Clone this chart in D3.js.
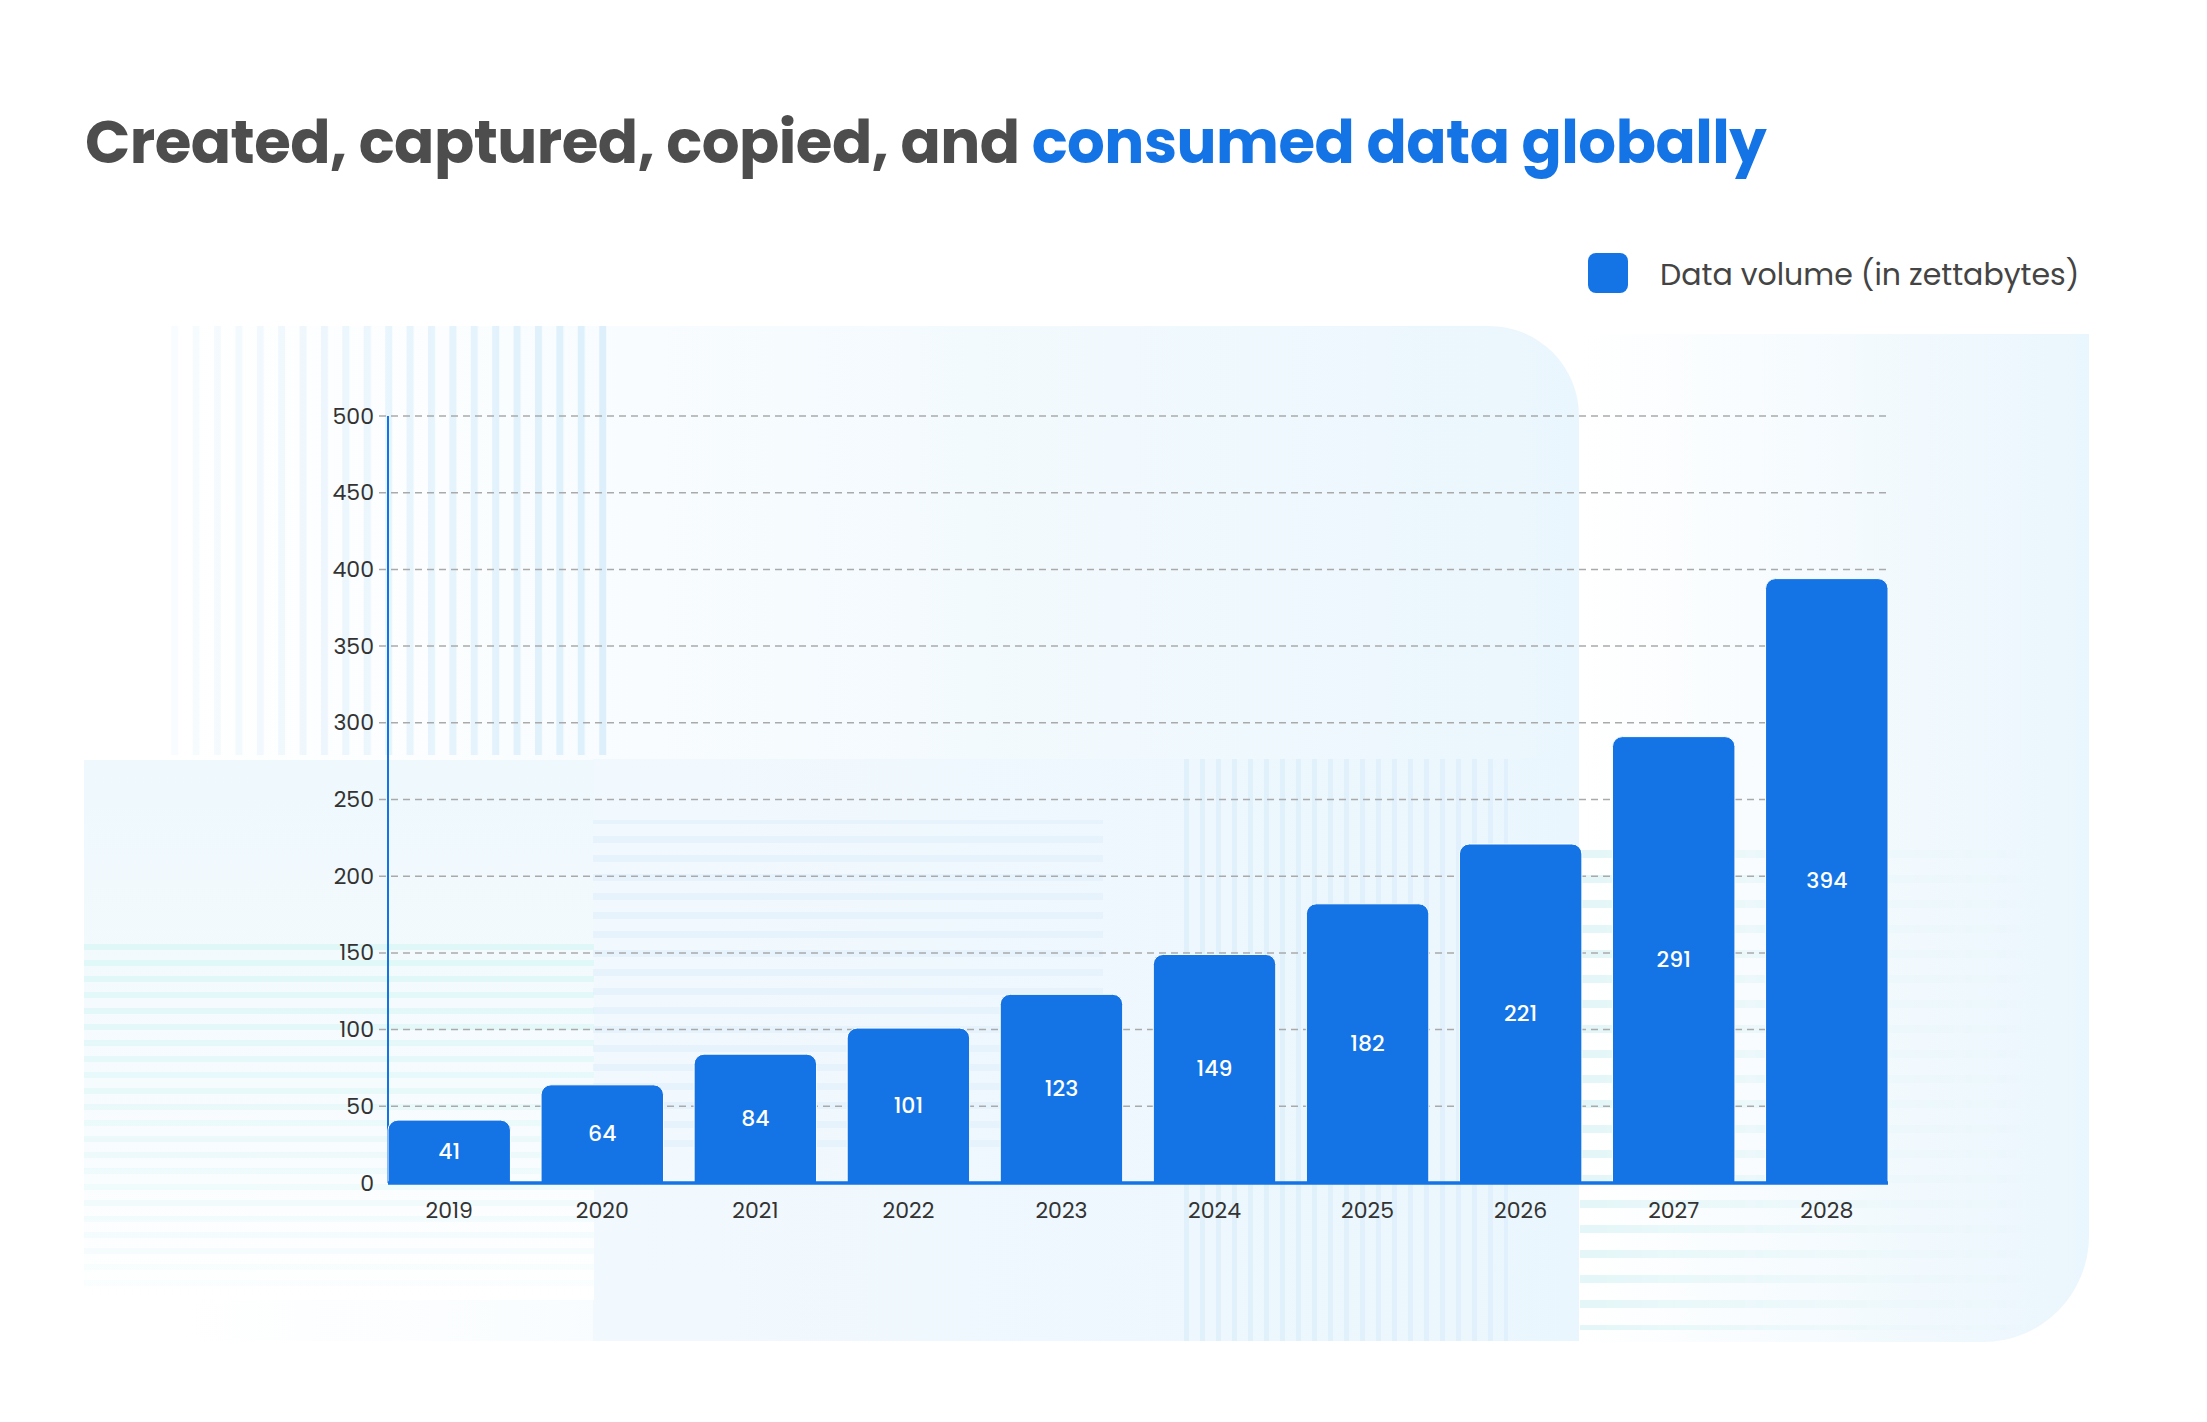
<!DOCTYPE html>
<html lang="en">
<head>
  <meta charset="utf-8" />
  <script src="https://d3js.org/d3.v7.min.js"></script>
  <style>
    body { margin: 0; background: #fff; }
    text { font-family: Poppins, Inter, "Noto Sans", sans-serif; }
    .tick-label { font-size: 22px; fill: #333; }
    .bar-label { font-size: 22px; fill: #fff; font-weight: 500; }
  </style>
</head>
<body>
  <div id="visu"></div>
  <script>
    const years = ["2019", "2020", "2021", "2022", "2023", "2024", "2025", "2026", "2027", "2028"];
    const volumes = [41, 64, 84, 101, 123, 149, 182, 221, 291, 394];
    const yTicks = [0, 50, 100, 150, 200, 250, 300, 350, 400, 450, 500];
    const seriesName = "Data volume (in zettabytes)";
    const titleDark = "Created, captured, copied, and ";
    const titleBlue = "consumed data globally";

    const width = 2207, height = 1422;
    const blue = "#1474e6";
    const plot = { left: 388, right: 1888, top: 416, bottom: 1183 };

    const svg = d3.select("#visu").append("svg")
      .attr("width", width)
      .attr("height", height);
    const defs = svg.append("defs");

    // --- background decoration ---
    function linGrad(id, x1, y1, x2, y2, stops) {
      const g = defs.append("linearGradient").attr("id", id)
        .attr("gradientUnits", "userSpaceOnUse")
        .attr("x1", x1).attr("y1", y1).attr("x2", x2).attr("y2", y2);
      stops.forEach(s => g.append("stop").attr("offset", s[0]).attr("stop-color", s[1]).attr("stop-opacity", s[2] == null ? 1 : s[2]));
    }
    linGrad("gB", 171, 0, 1579, 0, [[0, "#ffffff"], [1, "#eaf6fd"]]);
    linGrad("gD", 1579, 0, 2089, 0, [[0, "#ffffff"], [1, "#eaf6fd"]]);
    linGrad("gC", 593, 0, 1579, 0, [[0, "#f2f9fe"], [1, "#eaf6fd"]]);
    linGrad("gL", 0, 760, 0, 1300, [[0, "#eef8fd"], [0.6, "#f6fbfe"], [1, "#ffffff"]]);
    linGrad("fadeL", 171, 0, 614, 0, [[0, "#fff", 0.2], [1, "#fff", 1]]);
    linGrad("fadeD", 1580, 0, 2050, 0, [[0, "#fff", 1], [1, "#fff", 0]]);
    linGrad("fadeV", 0, 935, 0, 1300, [[0, "#fff", 1], [1, "#fff", 0.1]]);

    function stripes(id, vertical, step, thick, color) {
      const p = defs.append("pattern").attr("id", id)
        .attr("patternUnits", "userSpaceOnUse")
        .attr("width", vertical ? step : 20).attr("height", vertical ? 20 : step);
      p.append("rect")
        .attr("width", vertical ? thick : 20).attr("height", vertical ? 20 : thick)
        .attr("fill", color);
    }
    stripes("vs", true, 21.4, 7, "#dcefFB");
    stripes("vs2", true, 16, 5, "#dceefb");
    stripes("hs", false, 16, 6, "#dff7f7");
    stripes("hs2", false, 19, 7, "#e0effb");
    stripes("hs3", false, 25, 8, "#e4f6f8");

    function mask(id, fill) {
      defs.append("mask").attr("id", id).append("rect")
        .attr("width", width).attr("height", height).attr("fill", `url(#${fill})`);
    }
    mask("mL", "fadeL");
    mask("mD", "fadeD");
    mask("mV", "fadeV");

    const bg = svg.append("g");
    // right panel with rounded bottom-right corner
    bg.append("path")
      .attr("d", "M1500,334H2089V1236A106,106 0 0 1 1983,1342H1500Z")
      .attr("fill", "url(#gD)");
    // large panel with rounded top-right corner
    bg.append("path")
      .attr("d", "M171,326H1489A90,90 0 0 1 1579,416V1341H171Z")
      .attr("fill", "url(#gB)");
    bg.append("rect").attr("x", 593).attr("y", 759).attr("width", 986).attr("height", 582).attr("fill", "url(#gC)");
    bg.append("rect").attr("x", 84).attr("y", 760).attr("width", 510).attr("height", 540).attr("fill", "url(#gL)");
    bg.append("rect").attr("x", 171).attr("y", 326).attr("width", 443).attr("height", 429)
      .attr("fill", "url(#vs)").attr("mask", "url(#mL)");
    bg.append("rect").attr("x", 84).attr("y", 935).attr("width", 510).attr("height", 360)
      .attr("fill", "url(#hs)").attr("mask", "url(#mV)");
    bg.append("rect").attr("x", 593).attr("y", 820).attr("width", 510).attr("height", 330)
      .attr("fill", "url(#hs2)").attr("opacity", 0.6);
    bg.append("rect").attr("x", 1173).attr("y", 759).attr("width", 335).attr("height", 582)
      .attr("fill", "url(#vs2)").attr("opacity", 0.7);
    bg.append("rect").attr("x", 1580).attr("y", 850).attr("width", 470).attr("height", 480)
      .attr("fill", "url(#hs3)").attr("mask", "url(#mD)");

    // --- title ---
    const title = svg.append("text")
      .attr("x", 85).attr("y", 163)
      .style("font-size", "62px").style("font-weight", 700)
      .style("letter-spacing", "-0.5px");
    title.append("tspan").attr("fill", "#4d4d4d").text(titleDark);
    title.append("tspan").attr("fill", blue).text(titleBlue);
    const tw = title.node().getComputedTextLength();
    title.style("font-size", (62 * 1683 / tw) + "px");

    // --- legend ---
    svg.append("rect")
      .attr("x", 1588).attr("y", 253).attr("width", 40).attr("height", 40)
      .attr("rx", 8).attr("fill", blue);
    svg.append("text")
      .attr("x", 1660).attr("y", 285)
      .style("font-size", "30px").attr("fill", "#444")
      .text(seriesName);

    // --- scales ---
    const x = d3.scaleBand()
      .domain(years)
      .range([plot.left, plot.right])
      .paddingInner(0.2)
      .paddingOuter(0);

    const y = d3.scaleLinear()
      .domain([0, 500])
      .range([plot.bottom, plot.top]);

    // gridlines
    svg.append("g")
      .selectAll("line")
      .data(yTicks.filter(d => d > 0))
      .enter().append("line")
      .attr("x1", plot.left - 9).attr("x2", plot.right)
      .attr("y1", d => y(d)).attr("y2", d => y(d))
      .attr("stroke", "#aaa")
      .attr("stroke-width", 1.5)
      .attr("stroke-dasharray", "7,5");

    // y axis
    const yAxis = svg.append("g")
      .attr("transform", `translate(${plot.left},0)`)
      .call(d3.axisLeft(y).tickValues(yTicks).tickSize(0).tickPadding(14));
    yAxis.select(".domain").remove();
    yAxis.selectAll("text").attr("class", "tick-label").attr("font-family", null).attr("font-size", null).attr("fill", null);

    svg.append("line")
      .attr("x1", plot.left).attr("x2", plot.left)
      .attr("y1", y(500)).attr("y2", y(0))
      .attr("stroke", blue).attr("stroke-width", 2);

    // bars
    function barPath(bx, by, bw, bh, r) {
      return `M${bx},${by + bh}V${by + r}A${r},${r} 0 0 1 ${bx + r},${by}H${bx + bw - r}A${r},${r} 0 0 1 ${bx + bw},${by + r}V${by + bh}Z`;
    }
    const data = years.map((yr, i) => ({ year: yr, value: volumes[i] }));

    svg.append("g")
      .selectAll("path")
      .data(data)
      .enter().append("path")
      .attr("d", d => barPath(x(d.year), y(d.value), x.bandwidth(), y(0) - y(d.value), 10))
      .attr("fill", blue)
      .attr("stroke", "#ffffff")
      .attr("stroke-width", 1);

    svg.append("g")
      .selectAll("text")
      .data(data)
      .enter().append("text")
      .attr("class", "bar-label")
      .attr("x", d => x(d.year) + x.bandwidth() / 2)
      .attr("y", d => (y(d.value) + y(0)) / 2)
      .attr("text-anchor", "middle")
      .attr("dominant-baseline", "central")
      .text(d => d.value);

    // x axis
    const xAxis = svg.append("g")
      .attr("transform", `translate(0,${plot.bottom})`)
      .call(d3.axisBottom(x).tickSize(0).tickPadding(19));
    xAxis.select(".domain").remove();
    xAxis.selectAll("text").attr("class", "tick-label").attr("font-family", null).attr("font-size", null).attr("fill", null);

    svg.append("line")
      .attr("x1", plot.left).attr("x2", plot.right)
      .attr("y1", y(0)).attr("y2", y(0))
      .attr("stroke", blue).attr("stroke-width", 3.5);
  </script>
</body>
</html>
